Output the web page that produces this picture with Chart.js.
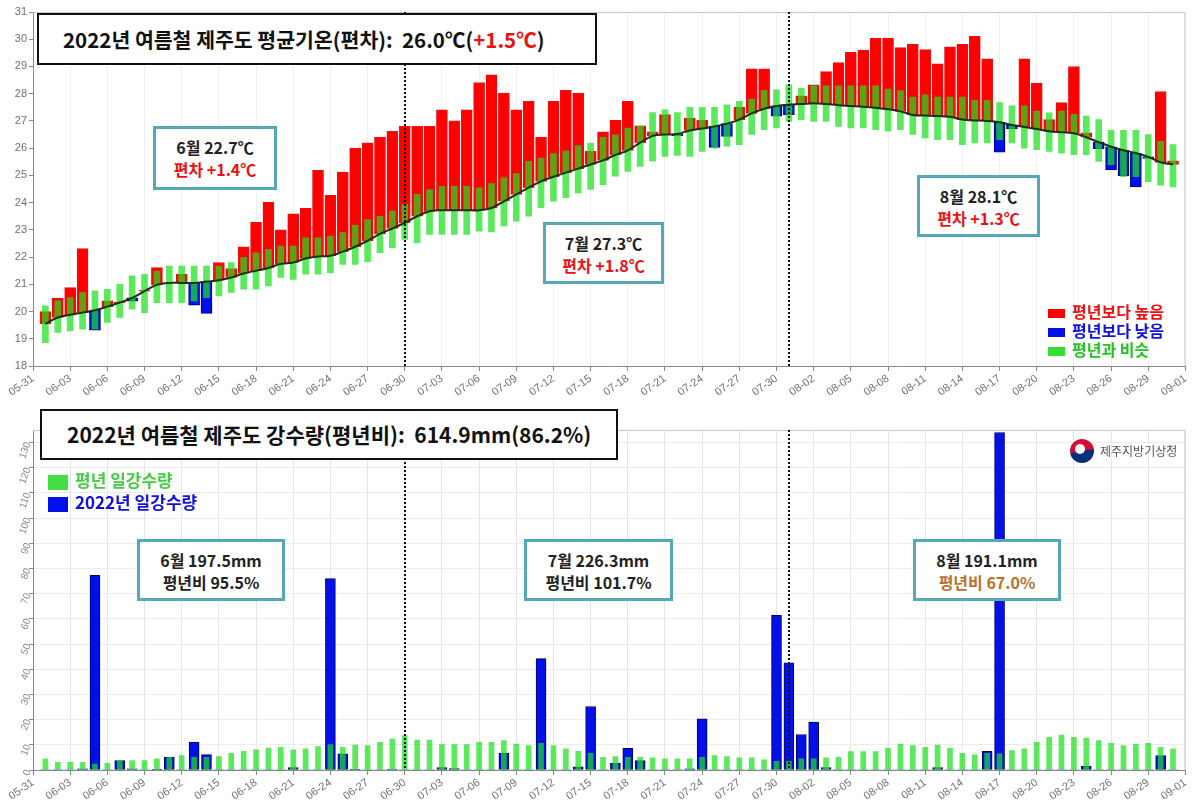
<!DOCTYPE html>
<html>
<head>
<meta charset="utf-8">
<script src="https://cdn.jsdelivr.net/npm/chart.js@4.4.1/dist/chart.umd.min.js"></script>
<style>
  body { margin: 0; background: #fff; overflow: hidden; font-family: "Noto Sans CJK KR", sans-serif; }
  .panel { position: absolute; left: 0; width: 1194px; }
  .box { position: absolute; box-sizing: border-box; background: #fff; }
  .title { border: 2px solid #111; font-weight: bold; color: #111; white-space: nowrap; }
  .note { border: 3px solid #55a8b7; font-weight: bold; font-size: 16px; line-height: 22px; text-align: center; color: #222; padding-top: 7px; }
  .red { color: #ee1111; }
  .brown { color: #b8702f; }
  .leg { position: absolute; font-weight: bold; white-space: nowrap; }
  .leg i { display: inline-block; vertical-align: middle; margin-right: 7px; }
</style>
</head>
<body>
<div class="panel" style="top:0;height:398px">
  <canvas id="cTemp" width="1194" height="398"></canvas>
  <div class="box title" style="left:37px;top:13px;width:560px;height:52px;line-height:48px;padding-left:24px;font-size:20.5px">2022년 여름철 제주도 평균기온(편차):&nbsp; 26.0℃(<span class="red">+1.5℃</span>)</div>
  <div class="box note" style="left:153px;top:126px;width:124px;height:64px">6월 22.7℃<br><span class="red">편차 +1.4℃</span></div>
  <div class="box note" style="left:543px;top:222px;width:121px;height:62px">7월 27.3℃<br><span class="red">편차 +1.8℃</span></div>
  <div class="box note" style="left:917px;top:175px;width:123px;height:62px">8월 28.1℃<br><span class="red">편차 +1.3℃</span></div>
  <div class="leg" style="left:1048px;top:302px;font-size:16px;line-height:19px">
    <div style="color:#ee1111"><i style="width:17px;height:9px;background:#ff0000"></i>평년보다 높음</div>
    <div style="color:#1111dd"><i style="width:17px;height:9px;background:#0010e8"></i>평년보다 낮음</div>
    <div style="color:#22c422"><i style="width:17px;height:9px;background:#33dd33"></i>평년과 비슷</div>
  </div>
</div>
<div class="panel" style="top:398px;height:404px">
  <canvas id="cRain" width="1194" height="404"></canvas>
  <div class="box title" style="left:40px;top:11px;width:578px;height:51px;line-height:47px;padding-left:25px;font-size:21px">2022년 여름철 제주도 강수량(평년비):&nbsp; 614.9mm(86.2%)</div>
  <div class="leg" style="left:48px;top:71px;font-size:17px;line-height:22px">
    <div style="color:#44cc44"><i style="width:20px;height:15px;background:#44dd44"></i>평년 일강수량</div>
    <div style="color:#1111dd"><i style="width:20px;height:15px;background:#0010e8"></i>2022년 일강수량</div>
  </div>
  <div class="box note" style="left:137px;top:141px;width:148px;height:62px">6월 197.5mm<br>평년비 95.5%</div>
  <div class="box note" style="left:524px;top:141px;width:149px;height:62px">7월 226.3mm<br>평년비 101.7%</div>
  <div class="box note" style="left:913px;top:141px;width:148px;height:62px">8월 191.1mm<br><span class="brown">평년비 67.0%</span></div>
  <div style="position:absolute;left:1070px;top:41px;width:24px;height:24px;border-radius:50%;background:linear-gradient(170deg,#d0102e 48%,#0a2f7a 52%)"></div>
  <div style="position:absolute;left:1075px;top:46px;width:10px;height:10px;border-radius:50%;background:#fff"></div>
  <div style="position:absolute;left:1100px;top:44px;font-size:12px;color:#555">제주지방기상청</div>
</div>
<script>
// x categories: 05-31 .. 09-01 (data runs 06-01 .. 08-31)
var days = ['05-31',
  '06-01','06-02','06-03','06-04','06-05','06-06','06-07','06-08','06-09','06-10',
  '06-11','06-12','06-13','06-14','06-15','06-16','06-17','06-18','06-19','06-20',
  '06-21','06-22','06-23','06-24','06-25','06-26','06-27','06-28','06-29','06-30',
  '07-01','07-02','07-03','07-04','07-05','07-06','07-07','07-08','07-09','07-10',
  '07-11','07-12','07-13','07-14','07-15','07-16','07-17','07-18','07-19','07-20',
  '07-21','07-22','07-23','07-24','07-25','07-26','07-27','07-28','07-29','07-30','07-31',
  '08-01','08-02','08-03','08-04','08-05','08-06','08-07','08-08','08-09','08-10',
  '08-11','08-12','08-13','08-14','08-15','08-16','08-17','08-18','08-19','08-20',
  '08-21','08-22','08-23','08-24','08-25','08-26','08-27','08-28','08-29','08-30','08-31',
  '09-01'];
var monthEnds = ['06-30', '07-31'];

// daily mean temperature (°C)
var normalAvg = [19.55,19.78,19.88,19.96,20.05,20.18,20.33,20.5,20.75,20.98,
  21.05,21.05,21.05,21.1,21.15,21.25,21.4,21.5,21.6,21.75,
  21.8,21.95,22.02,22.05,22.2,22.38,22.6,22.85,23.05,23.26,
  23.5,23.68,23.72,23.72,23.72,23.72,23.8,24.05,24.3,24.55,
  24.78,24.95,25.1,25.25,25.4,25.55,25.75,25.92,26.2,26.45,
  26.5,26.52,26.65,26.72,26.8,26.9,27.05,27.28,27.45,27.55,
  27.6,27.62,27.65,27.62,27.58,27.55,27.52,27.48,27.43,27.35,
  27.22,27.2,27.18,27.15,27.05,27.02,27.0,26.95,26.85,26.78,
  26.7,26.62,26.58,26.55,26.4,26.22,26.05,25.92,25.82,25.68,
  25.48,25.4];
var actualTemp = [20.0,20.49,20.88,22.31,19.32,20.39,20.35,20.38,20.78,21.61,
  21.05,21.37,20.23,19.93,21.8,21.58,22.38,23.28,24.02,23.0,
  23.59,23.79,25.19,24.27,25.12,26.0,26.2,26.41,26.62,26.8,
  26.8,26.8,27.41,27.0,27.41,28.41,28.69,28.02,27.41,27.72,
  26.41,27.72,28.12,28.02,25.88,26.6,27.02,27.72,26.82,26.6,
  27.23,26.45,27.1,27.02,26.03,26.43,27.5,28.91,28.91,27.17,
  27.23,27.92,28.33,28.81,29.14,29.52,29.6,30.03,30.03,29.69,
  29.81,29.62,29.1,29.72,29.81,30.11,29.28,25.85,26.72,29.28,
  28.39,27.05,27.67,29.0,26.56,25.98,25.2,24.99,24.58,25.62,
  28.08,25.53];
var normalHigh = [20.21,20.39,20.51,20.7,20.76,20.82,21.0,21.31,21.37,21.49,
  21.67,21.67,21.67,21.67,21.67,21.8,21.98,22.16,22.28,22.4,
  22.4,22.71,22.71,22.77,22.9,23.17,23.38,23.5,23.69,23.93,
  24.3,24.48,24.6,24.6,24.6,24.54,24.7,24.91,25.07,25.52,
  25.64,25.8,25.89,26.09,26.19,26.4,26.49,26.74,26.82,27.31,
  27.41,27.31,27.5,27.5,27.5,27.59,27.72,27.8,28.12,28.14,
  28.33,28.2,28.29,28.29,28.29,28.29,28.29,28.29,28.17,28.11,
  27.88,27.96,27.88,27.88,27.88,27.76,27.76,27.67,27.55,27.55,
  27.36,27.3,27.36,27.24,27.18,27.05,26.65,26.65,26.65,26.5,
  26.25,26.13];
var normalLow = [18.86,19.23,19.29,19.35,19.35,19.6,19.78,20.09,19.96,20.33,
  20.33,20.33,20.39,20.51,20.57,20.7,20.82,20.82,20.94,21.25,
  21.18,21.37,21.37,21.43,21.73,21.73,21.83,22.16,22.34,22.65,
  22.53,22.83,22.83,22.83,22.83,22.95,22.92,23.14,23.32,23.5,
  23.81,24.05,24.18,24.36,24.48,24.66,24.97,25.15,25.33,25.52,
  25.7,25.73,25.7,25.88,26.0,26.07,26.13,26.5,26.68,26.74,
  26.98,27.04,26.98,26.98,26.8,26.74,26.74,26.68,26.62,26.68,
  26.5,26.38,26.31,26.31,26.13,26.19,26.19,26.31,26.19,26.0,
  25.94,25.88,25.82,25.76,25.76,25.51,25.39,24.95,24.95,24.77,
  24.64,24.58];

// daily precipitation (mm)
var rainNormal = [4.4,3.05,3.05,3.05,2.4,2.65,3.7,3.7,3.7,4.4,
  5.0,5.7,5.0,5.0,5.3,6.6,7.4,8.0,8.75,9.0,
  8.0,8.4,9.3,10.1,9.0,9.9,9.7,11.0,12.3,13.7,
  11.9,11.9,10.1,10.1,10.1,11.0,11.0,11.7,10.3,9.7,
  10.6,9.7,8.4,7.4,6.6,5.0,5.3,5.0,5.0,4.8,
  4.4,4.4,4.4,5.0,5.7,5.3,4.8,4.8,4.0,3.4,
  3.4,4.4,4.4,4.8,5.0,7.3,7.3,7.3,8.6,10.3,
  9.7,9.0,9.9,8.6,6.6,6.0,6.6,6.4,7.7,8.4,
  11.0,13.0,13.9,13.0,12.7,11.7,10.6,9.7,10.3,10.6,
  9.0,8.4];
var rain2022 = [0,0,0,0.5,77.3,0,3.7,0.5,0,0.3,
  5.0,0,11.0,6.1,0,0,0,0,0,0,
  1.0,0,0,76.0,6.4,0.3,0,0,0.3,0,
  0,0,1.0,0.6,0,0,0,6.6,0,0,
  44.2,0,0,1.3,25.2,0,2.65,8.6,3.7,0,
  0,0,0.5,20.3,0,0,0,0,0,61.4,
  42.6,14.1,19.0,1.0,0.2,0,0,0,0,0,
  0,0,1.0,0,0,0,7.4,134,0,0,
  0,0,0,0,1.5,0,0,0,0,0,
  5.7,0];

var GREEN = 'rgba(30,225,30,0.72)';
var TICK_FONT = { family: 'Liberation Sans', size: 11 };

function pad(arr) { return [null].concat(arr, [null]); }

var frame = {
  id: 'frame',
  beforeDatasetsDraw: function (chart) {
    var a = chart.chartArea, c = chart.ctx;
    c.save();
    c.strokeStyle = '#c8c8c8';
    c.lineWidth = 1;
    c.beginPath();
    c.moveTo(a.left, a.top + 0.5); c.lineTo(a.right - 0.5, a.top + 0.5); c.lineTo(a.right - 0.5, a.bottom);
    c.stroke();
    c.restore();
  },
  afterDatasetsDraw: function (chart) {
    var a = chart.chartArea, c = chart.ctx, x = chart.scales.x;
    c.save();
    c.strokeStyle = '#111';
    c.lineWidth = 2;
    c.setLineDash([2, 2]);
    monthEnds.forEach(function (d) {
      var px = Math.round(x.getPixelForValue(days.indexOf(d)));
      c.beginPath(); c.moveTo(px, a.top); c.lineTo(px, a.bottom); c.stroke();
    });
    c.restore();
  }
};

function xAxis(gridCol) {
  return {
    type: 'category', offset: false,
    grid: { offset: false, color: function (c) { return c.index % 3 === 0 ? gridCol : 'rgba(0,0,0,0)'; },
            tickColor: function (c) { return c.index % 3 === 0 ? '#888' : 'rgba(0,0,0,0)'; }, tickLength: 5 },
    border: { color: '#888' },
    ticks: { autoSkip: false, minRotation: 35, maxRotation: 35, padding: 1, color: '#707070', font: TICK_FONT,
             callback: function (v, i) { return i % 3 === 0 ? days[i] : ''; } },
    afterFit: function (s) { s.height = 32; }
  };
}

new Chart(document.getElementById('cTemp'), {
  type: 'bar',
  data: {
    labels: days,
    datasets: [{
      type: 'line', label: '평년', data: pad(normalAvg), order: 0,
      borderColor: '#1c3012', borderWidth: 2, pointRadius: 0, tension: 0.4
    }, {
      label: '평년과 비슷', data: pad(normalLow.map(function (v, i) { return [v, normalHigh[i]]; })), order: 1,
      backgroundColor: GREEN, barThickness: 6, grouped: false
    }, {
      label: '2022', data: pad(actualTemp.map(function (v, i) { return [normalAvg[i], v]; })), order: 2,
      backgroundColor: function (c) { var r = c.raw; return r && r[1] >= r[0] ? '#ff0000' : '#0010e8'; },
      borderColor: function (c) { var r = c.raw; return r && r[1] >= r[0] ? '#ee1010' : '#00007a'; },
      borderWidth: 1, borderSkipped: false, barThickness: 11, grouped: false
    }]
  },
  options: {
    responsive: false, animation: false,
    layout: { padding: { top: 12, right: 6 } },
    plugins: { legend: { display: false }, tooltip: { enabled: false } },
    scales: {
      x: xAxis('#efefef'),
      y: {
        min: 18, max: 31,
        grid: { drawOnChartArea: false, tickLength: 4, tickColor: '#888' },
        border: { color: '#888' },
        ticks: { stepSize: 1, color: '#707070', font: TICK_FONT, padding: 2 },
        afterFit: function (s) { s.width = 33; }
      }
    }
  },
  plugins: [frame]
});

new Chart(document.getElementById('cRain'), {
  type: 'bar',
  data: {
    labels: days,
    datasets: [{
      label: '평년 일강수량', data: pad(rainNormal), order: 0,
      backgroundColor: GREEN, barThickness: 5, grouped: false
    }, {
      label: '2022년 일강수량', data: pad(rain2022), order: 1,
      backgroundColor: '#0010e8', borderColor: '#00006a',
      borderWidth: function (c) { return c.raw > 0 ? 1 : 0; }, borderSkipped: false,
      barThickness: 10, grouped: false
    }]
  },
  options: {
    responsive: false, animation: false,
    layout: { padding: { top: 32, right: 6 } },
    plugins: { legend: { display: false }, tooltip: { enabled: false } },
    scales: {
      x: xAxis('#e6e6e6'),
      y: {
        min: 0, max: 135,
        grid: { color: '#ececec', tickLength: 4, tickColor: '#888' },
        border: { color: '#888' },
        ticks: { stepSize: 5, color: '#8a8a8a', font: { family: 'Liberation Sans', size: 10 }, padding: 1,
                 minRotation: 70, maxRotation: 70 },
        afterFit: function (s) { s.width = 33; }
      }
    }
  },
  plugins: [frame]
});
</script>
</body>
</html>
